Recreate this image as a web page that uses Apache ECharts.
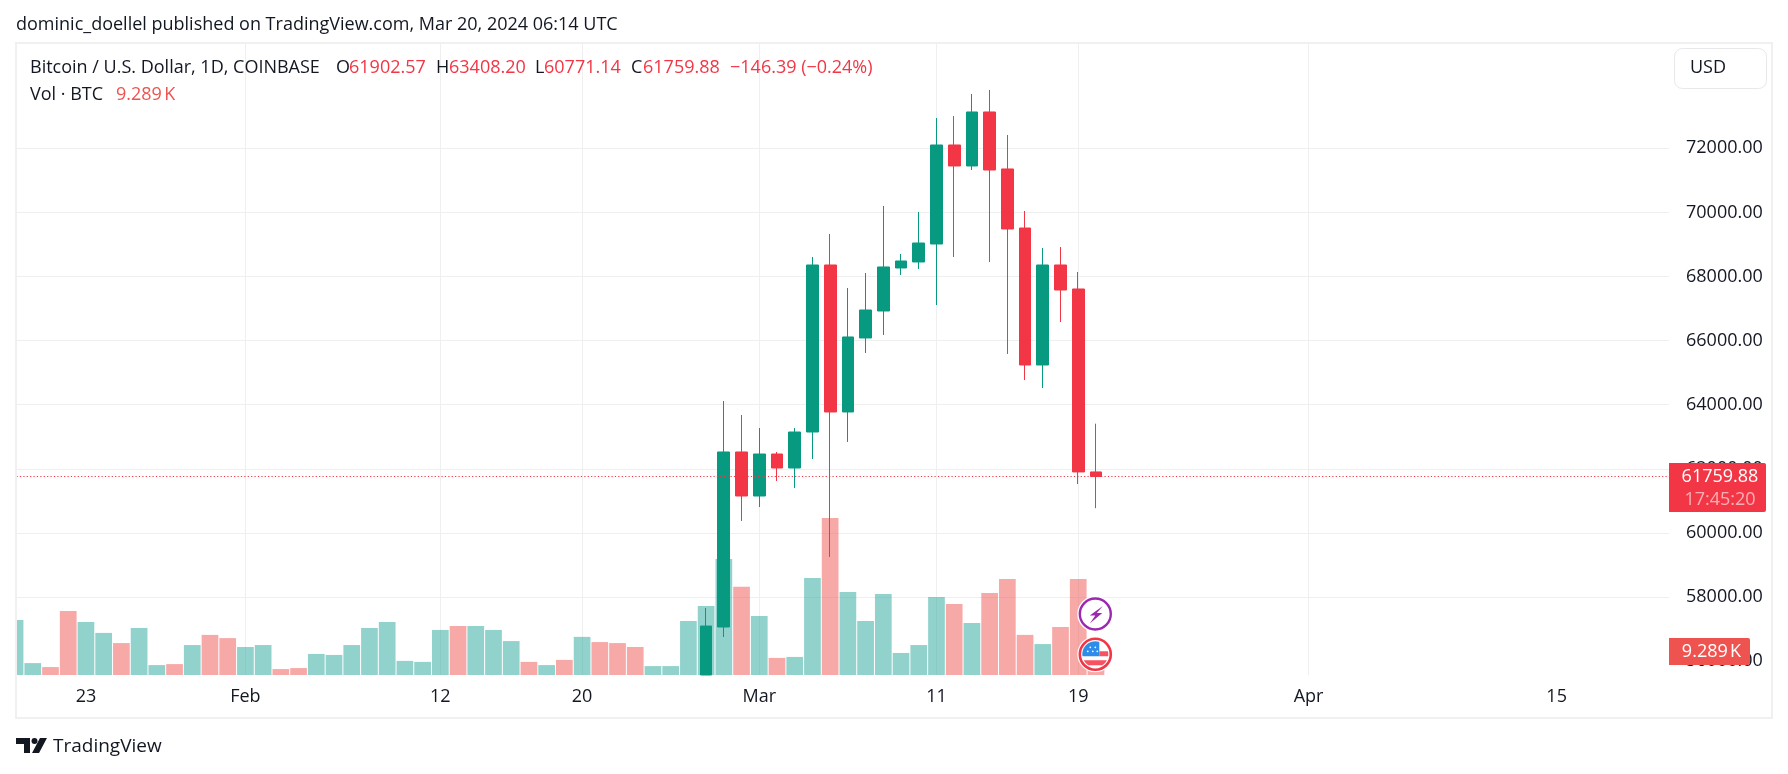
<!DOCTYPE html>
<html><head><meta charset="utf-8">
<style>html,body{margin:0;padding:0;background:#fff}#c{width:1788px;height:774px}</style>
<script src="https://cdn.jsdelivr.net/npm/echarts@6/dist/echarts.min.js"></script>
</head><body><div id="c"></div>
<script>
const FONT='"Open Sans", Lato, sans-serif';
const UP='#089981', DOWN='#F23645', VOL_UP='rgba(38,166,154,0.5)', VOL_DOWN='rgba(239,83,80,0.5)', GRID='#EFEFEF', INK='#131722';

// Daily volume in thousands of BTC, from Jan 19 to Mar 20, 2024
const volumes=[22.2,4.8,3.2,25.9,21.4,17.0,12.9,19.0,4.0,4.4,12.1,16.2,14.9,
 11.3,12.1,2.4,2.8,8.5,8.1,12.1,19.0,21.4,5.7,5.3,18.2,19.8,19.8,18.2,13.7,5.3,4.0,6.1,15.4,13.3,12.9,11.3,3.6,3.6,21.8,27.9,46.9,35.6,
 23.8,6.9,7.3,39.2,63.4,33.5,21.8,32.7,8.9,12.1,31.5,28.7,21.0,33.1,38.8,16.2,12.5,19.4,38.8,9.289];
const volumeUp=[1,1,0,0,1,1,0,1,1,0,1,0,0,
 1,1,0,0,1,1,1,1,1,1,1,1,0,1,1,1,0,1,0,1,0,0,0,1,1,1,1,1,0,
 1,0,1,1,0,1,1,1,1,1,1,0,1,0,0,0,1,0,0,0];
const volumeStart=[2024,0,19];

// Candles: open, close, low, high, from Feb 27 (earlier days sit below the visible price range;
// the Feb 27 body runs off the bottom of the pane, so its open and low are read at that edge)
const candleStart=[2024,1,27];
const opens =[55567,57065,62525,61152,62462,62025,63148,68359,63773,66082,66924,68266,68453,69014,72103,71448,73133,71355,69513,65239,68359,67610,61902.57];
const closes=[57095,62525,61152,62462,62025,63148,68359,63773,66113,66955,68297,68484,69045,72103,71448,73133,71323,69482,65239,68359,67579,61902,61759.88];
const lows  =[55567,56752,60372,60808,61620,61400,62306,59249,62837,65614,66175,68047,68234,67111,68609,71323,68453,65583,64771,64521,66581,61526,60771.14];
const highs =[57657,64116,63679,63274,62525,63274,68609,69326,67642,68110,70200,68702,70013,72945,73008,73694,73819,72415,70044,68889,68921,68141,63408.20];

const priceTicks=[56000,58000,60000,62000,64000,66000,68000,70000,72000,74000];
const priceLabels=[56000,58000,60000,62000,64000,66000,68000,70000,72000];
const dateTicks=[[2024,0,23,'23'],[2024,1,1,'Feb'],[2024,1,12,'12'],[2024,1,20,'20'],[2024,2,1,'Mar'],[2024,2,11,'11'],[2024,2,19,'19'],[2024,3,1,'Apr'],[2024,3,15,'15']];
const lastPrice=61759.88;

// The x axis counts days from the first volume bar
const DAY=864e5;
const dayZero=Date.UTC(...volumeStart);
const dayOf=(y,m,d)=>Math.round((Date.UTC(y,m,d)-dayZero)/DAY);
const candleFirst=dayOf(...candleStart);
const dateDays=dateTicks.map(d=>dayOf(d[0],d[1],d[2]));
const labelOf={}; dateTicks.forEach((d,i)=>labelOf[dateDays[i]]=d[3]);
const volData=volumes.map((v,i)=>({value:[i,v],itemStyle:{color:volumeUp[i]?VOL_UP:VOL_DOWN}}));
const candleData=opens.map((o,i)=>[candleFirst+i,o,closes[i],lows[i],highs[i]]);

const txt=(x,y,text,fill,size,extra)=>({type:'text',z:100,style:Object.assign({x,y,text,fill,font:(size||'18px').toString()+' '+FONT,textVerticalAlign:'middle'},extra||{})});
function clipped(x0,y0,x1,y1,r){const L=[],R=[];for(let y=y0;y<=y1+1e-6;y+=0.5){const w=Math.sqrt(Math.max(0,r*r-y*y));L.push([Math.max(x0,-w),y]);R.unshift([Math.min(x1,w),y]);}return L.concat(R);}
const flagR=13;
const graphics=[
 {type:'rect',z:100,shape:{x:0,y:590,width:16,height:90},style:{fill:'#fff'}},
 {type:'rect',z:101,shape:{x:16,y:43,width:1756,height:675},style:{fill:'none',stroke:'#F0F0F0',lineWidth:2}},
 txt(16,25,'dominic_doellel published on TradingView.com, Mar 20, 2024 06:14 UTC',INK),
 txt(30,68,'Bitcoin / U.S. Dollar, 1D, COINBASE',INK),
 txt(336,68,'O',INK),txt(349,68,'61902.57',DOWN),
 txt(436,68,'H',INK),txt(449,68,'63408.20',DOWN),
 txt(535,68,'L',INK),txt(544,68,'60771.14',DOWN),
 txt(631,68,'C',INK),txt(643,68,'61759.88',DOWN),
 txt(730,68,'\u2212146.39 (\u22120.24%)',DOWN),
 txt(30,95,'Vol \u00b7 BTC',INK),txt(116,95,'9.289\u202fK','#EF5350'),
 {type:'rect',z:100,shape:{x:1674.5,y:48.5,width:92,height:40,r:8},style:{fill:'#fff',stroke:'#E8E8E8',lineWidth:1}},
 txt(1690,68,'USD',INK),
 {type:'rect',z:100,shape:{x:1669,y:463,width:97,height:49,r:[0,2,2,0]},style:{fill:DOWN}},
 txt(1720,477,'61759.88','#fff','500 18px',{textAlign:'center'}),
 txt(1720,500,'17:45:20','rgba(255,255,255,0.6)','500 18px',{textAlign:'center'}),
 {type:'rect',z:100,shape:{x:1669,y:638,width:81,height:27,r:[0,2,2,0]},style:{fill:'#EF5350'}},
 txt(1711.5,651.5,'9.289\u202fK','#fff','500 18px',{textAlign:'center'}),
 // event markers
 {type:'group',x:1095.3,y:614,z:100,children:[
  {type:'circle',z:100,shape:{r:18},style:{fill:'#fff'}},
  {type:'circle',z:101,shape:{r:15.5},style:{fill:'#fff',stroke:'#9C27B0',lineWidth:2.4}},
  {type:'polygon',z:102,shape:{points:[[7.5,-8],[-5.5,1.5],[0,1.5],[-5.5,9.5],[7,-1],[1.5,-1]]},style:{fill:'#9C27B0'}}
 ]},
 {type:'group',x:1095.3,y:654.3,z:100,children:[
  {type:'circle',z:100,shape:{r:18},style:{fill:'#fff'}},
  {type:'circle',z:101,shape:{r:15.5},style:{fill:'#fff',stroke:DOWN,lineWidth:2.6}},
  {type:'polygon',z:102,shape:{points:clipped(4,-3,20,2,flagR)},style:{fill:'#F7525F'}},
  {type:'polygon',z:102,shape:{points:clipped(-20,6,20,11,flagR)},style:{fill:'#F7525F'}},
  {type:'polygon',z:103,shape:{points:clipped(-20,-13,4,2,flagR)},style:{fill:'#2E8DE8'}},
  {type:'circle',z:104,shape:{cx:-5,cy:-7,r:0.9},style:{fill:'#fff'}},
  {type:'circle',z:104,shape:{cx:0,cy:-7,r:0.9},style:{fill:'#fff'}},
  {type:'circle',z:104,shape:{cx:-7.5,cy:-3,r:0.9},style:{fill:'#fff'}},
  {type:'circle',z:104,shape:{cx:-2.5,cy:-3,r:0.9},style:{fill:'#fff'}},
  {type:'circle',z:104,shape:{cx:2,cy:-3,r:0.9},style:{fill:'#fff'}}
 ]},
 // TradingView logo
 {type:'polygon',z:100,shape:{points:[[16,738],[30,738],[30,753],[24,753],[24,744],[16,744]]},style:{fill:INK}},
 {type:'circle',z:100,shape:{cx:34.5,cy:741,r:3},style:{fill:INK}},
 {type:'polygon',z:100,shape:{points:[[40,738],[47,738],[39,753],[32,753]]},style:{fill:INK}},
 txt(53,747,'TradingView',INK,'19px')
];

const chart=echarts.init(document.getElementById('c'),null,{renderer:'canvas'});
chart.setOption({
 animation:false,backgroundColor:'#fff',
 textStyle:{fontFamily:FONT},
 grid:{left:16.5,right:119,top:43,bottom:99,containLabel:false},
 xAxis:{type:'value',min:0.081,max:93.34,
  axisLine:{show:false},
  axisTick:{show:false,customValues:dateDays},
  splitLine:{show:true,showMinLine:false,showMaxLine:false,lineStyle:{color:GRID,width:1}},
  axisLabel:{customValues:dateDays,formatter:v=>labelOf[v]||'',color:INK,fontSize:18,fontFamily:FONT,margin:13,hideOverlap:false}},
 yAxis:[
  {type:'value',position:'right',min:55567,max:75285,
   axisLine:{show:false},axisTick:{show:false,customValues:priceTicks},
   splitLine:{show:true,showMinLine:false,showMaxLine:false,lineStyle:{color:GRID,width:1}},
   axisLabel:{customValues:priceLabels,formatter:v=>v.toFixed(2),color:INK,fontSize:18,fontFamily:FONT,margin:17}},
  {type:'value',min:0,max:255.3,show:false,splitLine:{show:false}}
 ],
 series:[
  {type:'bar',name:'Vol',yAxisIndex:1,barWidth:16.7,data:volData,z:2,silent:true},
  {type:'candlestick',name:'BTCUSD',yAxisIndex:0,barWidth:12.2,z:3,data:candleData,
   itemStyle:{color:UP,color0:DOWN,borderColor:UP,borderColor0:DOWN,borderWidth:1},
   markLine:{silent:true,symbol:'none',label:{show:false},lineStyle:{color:DOWN,type:[1.2,2.2],width:1},data:[{yAxis:lastPrice}]}}
 ],
 graphic:graphics
});
</script></body></html>
